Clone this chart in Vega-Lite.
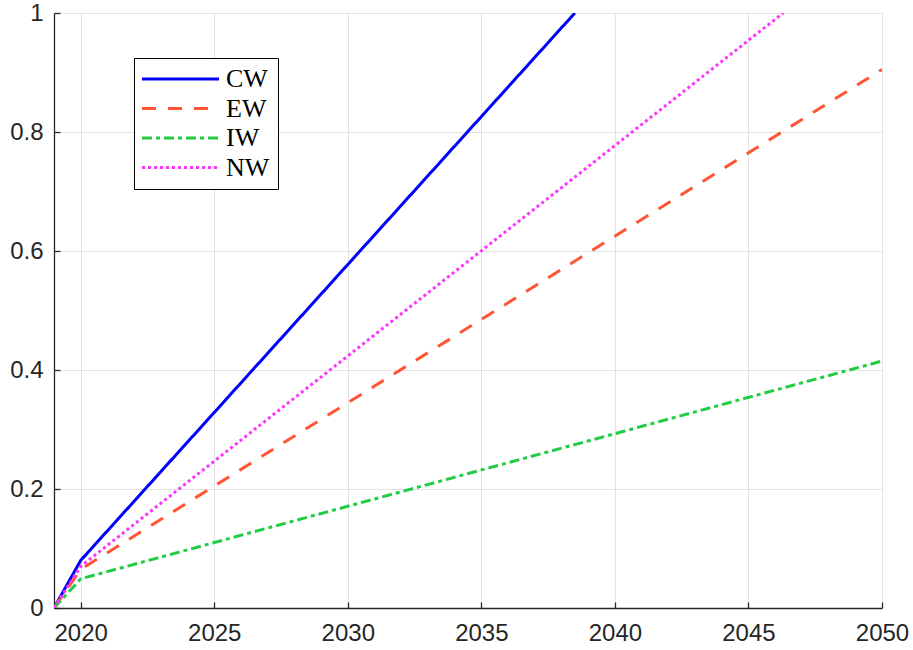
{
  "$schema": "https://vega.github.io/schema/vega-lite/v6.json",
  "width": 828,
  "height": 595,
  "autosize": "none",
  "padding": {"left": 54, "top": 13, "right": 31, "bottom": 42},
  "background": "white",
  "view": {"stroke": null},
  "config": {
    "axis": {
      "labelFont": "Liberation Sans",
      "labelFontSize": 24,
      "labelColor": "#262626",
      "domainColor": "#262626",
      "domainWidth": 1.3,
      "tickColor": "#262626",
      "tickWidth": 1.3,
      "tickSize": -6,
      "gridColor": "#e3e3e3",
      "gridWidth": 1,
      "title": null
    }
  },
  "data": {
    "values": [
      {"year": 2019, "value": 0, "series": "CW"},
      {"year": 2020, "value": 0.08, "series": "CW"},
      {"year": 2038.5, "value": 1, "series": "CW"},
      {"year": 2019, "value": 0, "series": "EW"},
      {"year": 2020, "value": 0.065, "series": "EW"},
      {"year": 2050, "value": 0.905, "series": "EW"},
      {"year": 2019, "value": 0, "series": "IW"},
      {"year": 2020, "value": 0.049, "series": "IW"},
      {"year": 2050, "value": 0.415, "series": "IW"},
      {"year": 2019, "value": 0, "series": "NW"},
      {"year": 2020, "value": 0.07, "series": "NW"},
      {"year": 2046.3, "value": 1, "series": "NW"}
    ]
  },
  "mark": {"type": "line", "strokeWidth": 3, "clip": true},
  "encoding": {
    "x": {
      "field": "year",
      "type": "quantitative",
      "scale": {"domain": [2019, 2050], "nice": false, "zero": false},
      "axis": {"values": [2020, 2025, 2030, 2035, 2040, 2045, 2050], "format": "d", "labelPadding": 19, "labelFlush": false}
    },
    "y": {
      "field": "value",
      "type": "quantitative",
      "scale": {"domain": [0, 1], "nice": false},
      "axis": {"values": [0, 0.2, 0.4, 0.6, 0.8, 1], "format": ".1~f", "labelPadding": 17}
    },
    "color": {
      "field": "series",
      "type": "nominal",
      "scale": {"domain": ["CW", "EW", "IW", "NW"], "range": ["#0000ff", "#ff5533", "#22cc44", "#ff33ff"]},
      "legend": {
        "title": null,
        "orient": "none",
        "legendX": 80,
        "legendY": 45,
        "strokeColor": "#000000",
        "fillColor": "#ffffff",
        "padding": 8,
        "rowPadding": 3.5,
        "labelFont": "Liberation Serif",
        "labelFontSize": 26,
        "labelColor": "#000000",
        "symbolType": "M-2.6,0H12.8",
        "symbolSize": 100,
        "symbolStrokeWidth": 3,
        "labelOffset": 58
      }
    },
    "strokeDash": {
      "field": "series",
      "type": "nominal",
      "scale": {"domain": ["CW", "EW", "IW", "NW"], "range": [[1, 0], [14, 12], [10, 4, 4, 4], [3, 3]]},
      "legend": null
    }
  }
}
